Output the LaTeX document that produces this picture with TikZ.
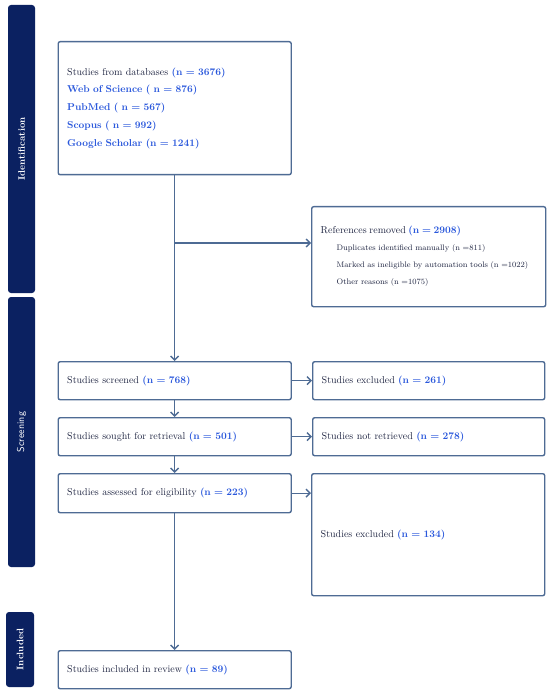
\documentclass[tikz,border=0pt]{standalone}
\usepackage{tikz}
\usetikzlibrary{arrows.meta}
\definecolor{frame}{HTML}{4E6B94}
\definecolor{navy}{HTML}{0B2161}
\definecolor{nblue}{HTML}{2A58DC}
\definecolor{ink}{HTML}{1F2542}
\def\nn#1{\textbf{\textcolor{nblue}{#1}}}

\begin{document}
\begin{tikzpicture}[x=1pt, y=-1pt,
	box/.style={draw=frame, line width=1.4pt, rounded corners=2pt, fill=white, anchor=north west,
		inner xsep=9pt, align=left, text=ink, font=\fontsize{10}{17.75}\selectfont},
	bar/.style={fill=navy, rounded corners=3pt, text=white, minimum width=27pt, rotate=90},
	arr/.style={draw=frame, line width=1.4pt, -{Straight Barb[length=4pt,width=8pt]}}]
		%%%%% START %%%%%
		\useasboundingbox (0,0) rectangle (550,692);
		
		\node[bar, minimum width=288pt, minimum height=27pt, font=\fontsize{9.5}{11}\selectfont\bfseries] (idbar) at (21.5,149) {Identification};
		\node[bar, minimum width=270pt, minimum height=27pt, font=\fontsize{10}{12}\selectfont\sffamily] (scbar) at (21.5,432) {Screening};
		\node[bar, minimum width=75pt, minimum height=28pt, font=\fontsize{9.5}{11}\selectfont\bfseries] (inbar) at (20,649.5) {Included};
		
		\node[box, text width=215pt, minimum height=133pt] (dbs) at (57.5,41)
			{Studies from databases \nn{(n = 3676)}\\
			 \nn{Web of Science ( n = 876)}\\
			 \nn{PubMed ( n = 567)}\\
			 \nn{Scopus ( n = 992)}\\
			 \nn{Google Scholar (n = 1241)}};
		
		\node[box, text width=216pt, minimum height=100pt, font=\fontsize{8}{17}\selectfont] (removed) at (311,206)
			{{\fontsize{10}{17}\selectfont References removed \nn{(n = 2908)}}\\
			 \hspace*{16pt}Duplicates identified manually (n =811)\\
			 \hspace*{16pt}Marked as ineligible by automation tools (n =1022)\\
			 \hspace*{16pt}Other reasons (n =1075)};
		
		\node[box, text width=215pt, minimum height=38pt] (screened) at (57.5,361) {Studies screened \nn{(n = 768)}};
		\node[box, text width=214pt, minimum height=38pt] (excl) at (312,361) {Studies excluded \nn{(n = 261)}};
		
		\node[box, text width=215pt, minimum height=38pt] (sought) at (57.5,417) {Studies sought for retrieval \nn{(n = 501)}};
		\node[box, text width=214pt, minimum height=38pt] (notret) at (312,417) {Studies not retrieved \nn{(n = 278)}};
		
		\node[box, text width=215pt, minimum height=39pt] (assessed) at (57.5,473) {Studies assessed for eligibility \nn{(n = 223)}};
		\node[box, text width=215pt, minimum height=122pt] (exclelig) at (311,473) {Studies excluded \nn{(n = 134)}};
		
		\node[box, text width=215pt, minimum height=38pt] (included) at (57.5,650) {Studies included in review \nn{(n = 89)}};
		
		\coordinate (split) at (dbs.south |- 0,243);
		\draw[arr] (dbs.south) -- (screened.north);
		\draw[arr] (split) -- (split -| removed.west);
		\draw[arr] (screened.east) -- (excl.west);
		\draw[arr] (screened.south) -- (sought.north);
		\draw[arr] (sought.east) -- (notret.west);
		\draw[arr] (sought.south) -- (assessed.north);
		\draw[arr] (assessed.east) -- (assessed.east -| exclelig.west);
		\draw[arr] (assessed.south) -- (included.north);
		%%%%% END %%%%%
	\end{tikzpicture}
\end{document}
